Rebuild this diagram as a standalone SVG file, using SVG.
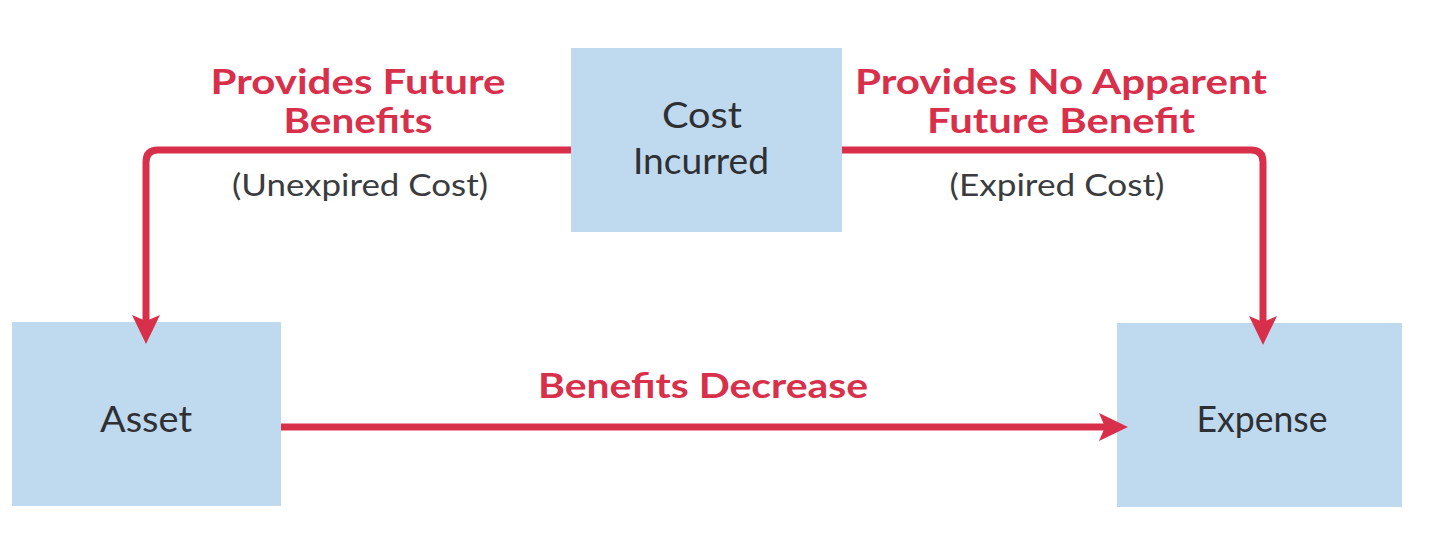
<svg xmlns="http://www.w3.org/2000/svg" width="1440" height="538" viewBox="0 0 1440 538">
<style>
.box{fill:#bfd9ef}
.lbl{font-family:Lato,"Open Sans",sans-serif;font-size:37px;fill:#2e3033;text-anchor:middle}
.red{font-family:Lato,"Open Sans",sans-serif;font-size:34px;font-weight:bold;fill:#d8304b;text-anchor:middle}
.sub{font-family:Lato,"Open Sans",sans-serif;font-size:31px;fill:#3a3c3f;text-anchor:middle}
.conn{fill:none;stroke:#d8304b;stroke-width:7}
.head{fill:#d8304b}
</style>
<defs>
<path id="ah" d="M-14,-29 L0,0 L14,-29 L0,-23 Z"/>
</defs>
<rect width="1440" height="538" fill="#ffffff"/>
<g id="node-cost">
<rect class="box" x="571" y="48" width="271" height="184"/>
<text class="lbl" x="702" y="128" textLength="80" lengthAdjust="spacingAndGlyphs">Cost</text>
<text class="lbl" x="701" y="174" textLength="136" lengthAdjust="spacingAndGlyphs">Incurred</text>
</g>
<g id="node-asset">
<rect class="box" x="12" y="322" width="269" height="184"/>
<text class="lbl" x="146" y="432" textLength="92" lengthAdjust="spacingAndGlyphs">Asset</text>
</g>
<g id="node-expense">
<rect class="box" x="1117" y="323" width="285" height="184"/>
<text class="lbl" x="1262" y="432" textLength="131" lengthAdjust="spacingAndGlyphs">Expense</text>
</g>
<g id="connectors">
<path class="conn" d="M571,150 H158 Q146,150 146,162 V322"/>
<use href="#ah" class="head" transform="translate(146,344)"/>
<path class="conn" d="M842,150 H1251 Q1263,150 1263,162 V322"/>
<use href="#ah" class="head" transform="translate(1263,345)"/>
<path class="conn" d="M281,427 H1106"/>
<use href="#ah" class="head" transform="translate(1128,427) rotate(-90)"/>
</g>
<g id="labels">
<text class="red" x="358" y="94" textLength="295" lengthAdjust="spacingAndGlyphs">Provides Future</text>
<text class="red" x="358" y="133" textLength="149" lengthAdjust="spacingAndGlyphs">Benefits</text>
<text class="sub" x="360" y="196" textLength="256" lengthAdjust="spacingAndGlyphs">(Unexpired Cost)</text>
<text class="red" x="1061" y="94" textLength="412" lengthAdjust="spacingAndGlyphs">Provides No Apparent</text>
<text class="red" x="1061" y="133" textLength="268" lengthAdjust="spacingAndGlyphs">Future Benefit</text>
<text class="sub" x="1057" y="196" textLength="215" lengthAdjust="spacingAndGlyphs">(Expired Cost)</text>
<text class="red" x="703" y="398" textLength="330" lengthAdjust="spacingAndGlyphs">Benefits Decrease</text>
</g>
</svg>
